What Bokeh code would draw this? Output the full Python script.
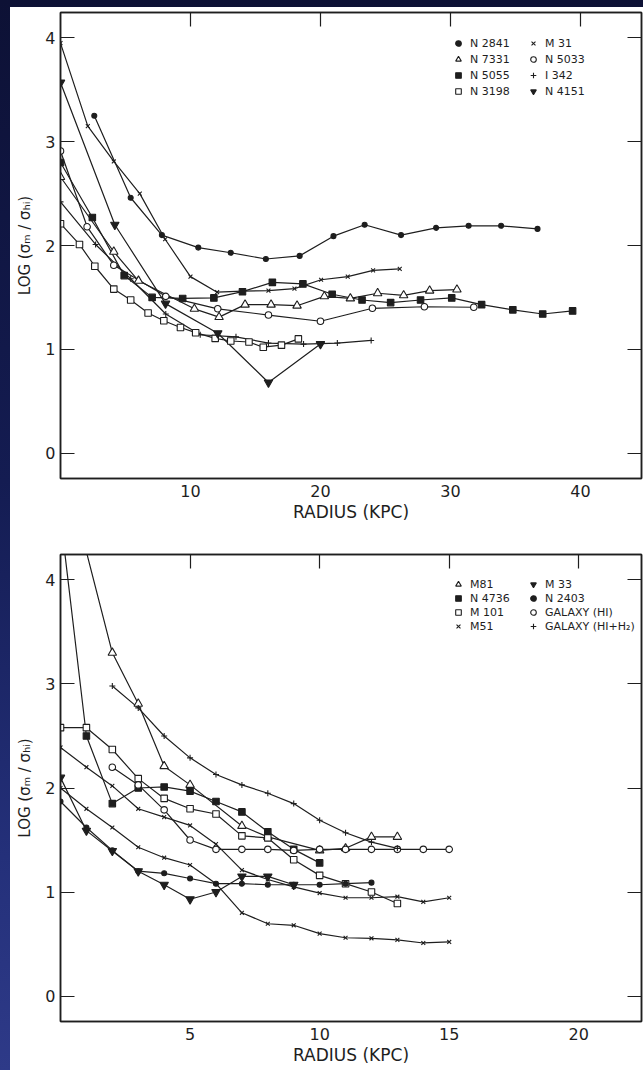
from bokeh.plotting import figure
from bokeh.models import Legend, LegendItem, LinearAxis, FixedTicker, Range1d
from bokeh.layouts import column
from bokeh.embed import file_html
from bokeh.resources import INLINE

# ---------------- data: upper panel (radius in kpc, log ratio) ----------------
n2841_r = [2.6, 5.4, 7.8, 10.6, 13.1, 15.8, 18.4, 21.0, 23.4, 26.2, 28.9, 31.4, 33.9, 36.7]
n2841_v = [3.25, 2.46, 2.10, 1.98, 1.93, 1.87, 1.90, 2.09, 2.20, 2.10, 2.17, 2.19, 2.19, 2.16]
m31_r = [0, 2.1, 4.1, 6.1, 8.05, 10.0, 12.05, 14.0, 16.0, 18.0, 20.05, 22.1, 24.05, 26.1]
m31_v = [3.95, 3.15, 2.81, 2.50, 2.06, 1.70, 1.55, 1.56, 1.565, 1.585, 1.67, 1.70, 1.76, 1.775]
n7331_r = [0, 4.1, 6.0, 10.3, 12.2, 14.2, 16.2, 18.2, 20.3, 22.3, 24.4, 26.4, 28.4, 30.5]
n7331_v = [2.66, 1.94, 1.66, 1.39, 1.31, 1.43, 1.43, 1.42, 1.51, 1.49, 1.54, 1.52, 1.565, 1.575]
n5033_r = [0, 2.05, 4.1, 8.1, 12.1, 16.0, 20.0, 24.0, 28.0, 31.8]
n5033_v = [2.91, 2.18, 1.81, 1.51, 1.39, 1.33, 1.27, 1.395, 1.41, 1.405]
n5055_r = [0, 2.45, 4.9, 7.05, 9.4, 11.8, 14.0, 16.3, 18.65, 20.9, 23.2, 25.4, 27.7, 30.1, 32.4, 34.8, 37.1, 39.4]
n5055_v = [2.80, 2.27, 1.71, 1.50, 1.49, 1.495, 1.555, 1.645, 1.63, 1.53, 1.475, 1.45, 1.475, 1.495, 1.43, 1.38, 1.34, 1.37]
i342_r = [0, 2.7, 5.4, 8.1, 10.75, 13.5, 16.0, 18.7, 21.3, 23.9]
i342_v = [2.42, 2.01, 1.68, 1.34, 1.14, 1.12, 1.06, 1.05, 1.06, 1.085]
n3198_r = [0, 1.46, 2.64, 4.1, 5.4, 6.74, 7.95, 9.23, 10.4, 11.9, 13.1, 14.5, 15.6, 17.0, 18.3]
n3198_v = [2.21, 2.01, 1.80, 1.58, 1.475, 1.35, 1.275, 1.21, 1.16, 1.105, 1.08, 1.07, 1.02, 1.04, 1.10]
n4151_r = [0, 4.18, 8.08, 12.1, 16.0, 20.0]
n4151_v = [3.57, 2.20, 1.44, 1.155, 0.68, 1.05]

# ---------------- data: lower panel ----------------
m81_r = [1, 2, 3, 4, 5, 7, 8, 10, 11, 12, 13]
m81_v = [4.27, 3.30, 2.81, 2.21, 2.03, 1.635, 1.53, 1.40, 1.42, 1.53, 1.53]
n4736_r = [0, 1, 2, 3, 4, 5, 6, 7, 8, 9, 10]
n4736_v = [4.61, 2.50, 1.85, 2.00, 2.01, 1.97, 1.87, 1.77, 1.58, 1.41, 1.28]
m101_r = [0, 1, 2, 3, 4, 5, 6, 7, 8, 9, 10, 11, 12, 13]
m101_v = [2.58, 2.58, 2.37, 2.09, 1.90, 1.80, 1.75, 1.54, 1.52, 1.31, 1.16, 1.08, 1.00, 0.89]
m51a_r = [0, 1, 2, 3, 4, 5, 6, 7, 8, 9, 10, 11, 12, 13, 14, 15]
m51a_v = [2.39, 2.20, 2.02, 1.80, 1.72, 1.64, 1.46, 1.21, 1.12, 1.05, 0.99, 0.945, 0.945, 0.955, 0.905, 0.945]
m51b_r = [0, 1, 2, 3, 4, 5, 6, 7, 8, 9, 10, 11, 12, 13, 14, 15]
m51b_v = [2.00, 1.80, 1.62, 1.43, 1.33, 1.26, 1.08, 0.80, 0.695, 0.68, 0.60, 0.56, 0.555, 0.54, 0.51, 0.52]
m33_r = [0, 1, 2, 3, 4, 5, 6, 7, 8, 9]
m33_v = [2.10, 1.59, 1.395, 1.20, 1.07, 0.93, 1.00, 1.15, 1.15, 1.07]
n2403_r = [0, 1, 2, 3, 4, 5, 6, 7, 8, 9, 10, 11, 12]
n2403_v = [1.87, 1.62, 1.40, 1.20, 1.18, 1.13, 1.08, 1.08, 1.07, 1.07, 1.07, 1.08, 1.09]
galhi_r = [2, 3, 4, 5, 6, 7, 8, 9, 10, 11, 12, 13, 14, 15]
galhi_v = [2.20, 2.03, 1.79, 1.50, 1.41, 1.41, 1.41, 1.40, 1.41, 1.41, 1.41, 1.41, 1.41, 1.41]
galh2_r = [2, 3, 4, 5, 6, 7, 8, 9, 10, 11, 12, 13]
galh2_v = [2.98, 2.77, 2.50, 2.29, 2.13, 2.03, 1.95, 1.85, 1.69, 1.57, 1.48, 1.42]

top_xticks = [10, 20, 30, 40]
bot_xticks = [5, 10, 15, 20]
y_ticks = [0, 1, 2, 3, 4]

INK = "#1e1e1e"
FONT = "DejaVu Sans"

# marker styles: (marker, filled, size)
STY = {
    "dot": ("circle", True, 5),
    "otri": ("triangle", False, 8.5),
    "fsq": ("square", True, 6.5),
    "osq": ("square", False, 6.5),
    "x": ("x", False, 5.5),
    "ocirc": ("circle", False, 6.5),
    "plus": ("cross", False, 6),
    "itri": ("inverted_triangle", True, 8.5),
}


def make_panel(xmax, xticks, series, legend_cols, fig_h, top_border, bottom_border, leg_row_h, leg_top):
    p = figure(width=633, height=fig_h, x_range=Range1d(0, xmax), y_range=Range1d(-0.245, 4.245),
               output_backend="svg", toolbar_location=None,
               min_border_left=50, min_border_right=2, min_border_top=top_border,
               min_border_bottom=bottom_border,
               background_fill_color="white", border_fill_color="white")
    p.grid.visible = False
    p.outline_line_color = INK
    p.outline_line_width = 1.5

    xa = p.below[0]
    xa.ticker = FixedTicker(ticks=xticks)
    xa.major_tick_in = 0
    xa.major_tick_out = 0
    xa.minor_tick_line_color = None
    xa.axis_line_color = INK
    xa.axis_line_width = 1.5
    xa.major_label_text_font = FONT
    xa.major_label_text_font_size = "16px"
    xa.major_label_text_color = INK
    xa.major_label_standoff = 6
    xa.axis_label = "RADIUS (KPC)"
    xa.axis_label_text_font = FONT
    xa.axis_label_text_font_size = "17px"
    xa.axis_label_text_font_style = "normal"
    xa.axis_label_text_color = INK
    xa.axis_label_standoff = 2

    ya = p.left[0]
    ya.ticker = FixedTicker(ticks=y_ticks)
    ya.major_tick_in = 14
    ya.major_tick_out = 0
    ya.major_tick_line_color = INK
    ya.major_tick_line_width = 1.2
    ya.minor_tick_line_color = None
    ya.axis_line_color = INK
    ya.axis_line_width = 1.5
    ya.major_label_text_font = FONT
    ya.major_label_text_font_size = "16px"
    ya.major_label_text_color = INK
    ya.major_label_standoff = 5
    ya.axis_label = "LOG (σₘ / σₕᵢ)"
    ya.axis_label_text_font = FONT
    ya.axis_label_text_font_size = "15px"
    ya.axis_label_text_font_style = "normal"
    ya.axis_label_text_color = INK
    ya.axis_label_standoff = 8

    top = LinearAxis(ticker=FixedTicker(ticks=xticks), major_tick_in=14, major_tick_out=0,
                     minor_tick_line_color=None, major_label_text_font_size="0px",
                     major_label_standoff=0, major_label_overrides={t: "" for t in xticks},
                     axis_line_color=INK, axis_line_width=1.5, major_tick_line_color=INK,
                     major_tick_line_width=1.2)
    p.add_layout(top, "above")
    right = LinearAxis(ticker=FixedTicker(ticks=y_ticks), major_tick_in=14, major_tick_out=0,
                       minor_tick_line_color=None, major_label_text_font_size="0px",
                       major_label_standoff=0, major_label_overrides={t: "" for t in y_ticks},
                       axis_line_color=INK, axis_line_width=1.5, major_tick_line_color=INK,
                       major_tick_line_width=1.2)
    p.add_layout(right, "right")

    for _, xs, ys, _s in series:
        p.line(xs, ys, line_color=INK, line_width=1.2)
    rends = {}
    for name, xs, ys, s in series:
        marker, filled, size = STY[s]
        r = p.scatter(xs, ys, marker=marker, size=size, line_color=INK, line_width=1.1,
                      fill_color=INK if filled else "white")
        rends.setdefault(name, r)

    frame_h = fig_h - top_border - bottom_border
    for xoff, names in legend_cols:
        items = [LegendItem(label=n, renderers=[rends[n]]) for n in names]
        leg_h = leg_row_h * len(names)
        leg = Legend(items=items, location=(xoff, frame_h - leg_top - leg_h), orientation="vertical",
                     border_line_color=None, background_fill_alpha=0.0, padding=0, margin=0,
                     spacing=0, glyph_width=14, glyph_height=leg_row_h, label_height=leg_row_h,
                     label_standoff=5, label_text_font=FONT, label_text_font_size="11px",
                     label_text_color=INK)
        p.add_layout(leg)
    return p


top_series = [
    ("N 2841", n2841_r, n2841_v, "dot"),
    ("M 31", m31_r, m31_v, "x"),
    ("N 7331", n7331_r, n7331_v, "otri"),
    ("N 5033", n5033_r, n5033_v, "ocirc"),
    ("N 5055", n5055_r, n5055_v, "fsq"),
    ("I 342", i342_r, i342_v, "plus"),
    ("N 3198", n3198_r, n3198_v, "osq"),
    ("N 4151", n4151_r, n4151_v, "itri"),
]
bot_series = [
    ("M81", m81_r, m81_v, "otri"),
    ("N 4736", n4736_r, n4736_v, "fsq"),
    ("M 101", m101_r, m101_v, "osq"),
    ("M51", m51a_r, m51a_v, "x"),
    ("M51", m51b_r, m51b_v, "x"),
    ("M 33", m33_r, m33_v, "itri"),
    ("N 2403", n2403_r, n2403_v, "dot"),
    ("GALAXY (HI)", galhi_r, galhi_v, "ocirc"),
    ("GALAXY (HI+H₂)", galh2_r, galh2_v, "plus"),
]

p1 = make_panel(44.7, top_xticks, top_series,
                [(391, ["N 2841", "N 7331", "N 5055", "N 3198"]),
                 (466, ["M 31", "N 5033", "I 342", "N 4151"])],
                fig_h=528, top_border=5, bottom_border=57, leg_row_h=16, leg_top=23)
p2 = make_panel(22.42, bot_xticks, bot_series,
                [(391, ["M81", "N 4736", "M 101", "M51"]),
                 (466, ["M 33", "N 2403", "GALAXY (HI)", "GALAXY (HI+H₂)"])],
                fig_h=535, top_border=19, bottom_border=49, leg_row_h=14, leg_top=23)

paper = column(p1, p2, spacing=0, margin=(7, 0, 0, 10), styles={"background": "white"})
page = column(paper, styles={"background": "linear-gradient(180deg, #0d1135 0%, #141c52 45%, #24307a 80%, #2e3a88 100%)"})

open("out.html", "w").write(file_html(page, INLINE))
